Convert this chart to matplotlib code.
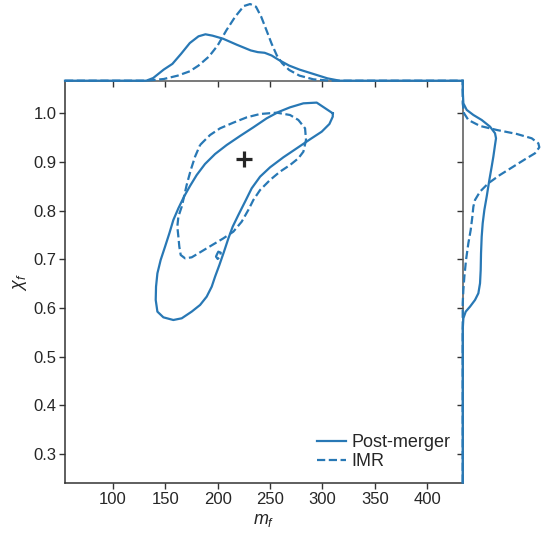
import matplotlib
matplotlib.use('Agg')
import matplotlib.pyplot as plt

plt.rcParams['font.family'] = ['Liberation Sans', 'DejaVu Sans']
plt.rcParams['mathtext.fontset'] = 'custom'
plt.rcParams['mathtext.rm'] = 'Liberation Sans'
plt.rcParams['mathtext.it'] = 'Liberation Sans:italic'
plt.rcParams['lines.solid_joinstyle'] = 'round'
plt.rcParams['lines.dash_joinstyle'] = 'round'

BLUE = '#2878b5'
DARK = '#262626'

# ---- axis ranges / ticks ----
x_ticks = [100, 150, 200, 250, 300, 350, 400]
y_ticks = [0.3, 0.4, 0.5, 0.6, 0.7, 0.8, 0.9, 1.0]
x_range = (54.5, 433.7)
y_range = (0.241, 1.067)

# ---- true / injected value ----
true_m = 225.5
true_chi = 0.907

# ---- 90% credible contour, Post-merger (m_f, chi_f) ----
pm_m = [309.8, 294.5, 281.8, 269.1, 258.0, 246.8, 234.1, 221.4, 208.7, 197.6, 188.0,
        180.1, 173.7, 168.0, 162.6, 157.8, 154.0, 149.9, 145.7, 142.6, 141.3, 141.0,
        142.6, 148.3, 157.8, 165.8, 175.3, 183.3, 189.6, 194.4, 197.6, 201.7, 206.1,
        210.3, 214.4, 219.8, 226.2, 232.5, 240.5, 250.0, 262.7, 275.4, 288.1, 299.3,
        306.6, 309.8, 309.8]
pm_chi = [1.000, 1.022, 1.0205, 1.0123, 1.0027, 0.9897, 0.9712, 0.9534, 0.9349, 0.9164,
          0.8959, 0.8733, 0.8507, 0.8288, 0.8048, 0.7808, 0.7534, 0.7260, 0.6986, 0.6712,
          0.6438, 0.6164, 0.5925, 0.5808, 0.5753, 0.5788, 0.5925, 0.6062, 0.6233, 0.6438,
          0.6644, 0.6883, 0.7157, 0.7431, 0.7671, 0.7911, 0.8185, 0.8459, 0.8698, 0.8890,
          0.9096, 0.9280, 0.9465, 0.9623, 0.9780, 0.9931, 1.000]

# ---- 90% credible contour, IMR (m_f, chi_f) ----
imr_m = [183.3, 186.4, 192.8, 202.3, 215.0, 227.8, 240.5, 256.4, 269.1, 277.0, 283.4,
         284.3, 281.8, 277.0, 269.1, 259.5, 250.0, 240.5, 234.1, 229.3, 223.0, 215.0,
         205.5, 197.6, 189.6, 181.7, 175.3, 169.0, 164.8, 163.5, 162.6, 161.6, 162.6,
         165.8, 168.0, 170.5, 174.4, 178.5, 183.3]
imr_chi = [0.9349, 0.9417, 0.9554, 0.9691, 0.9808, 0.9917, 0.9986, 1.0013, 0.9965, 0.9863,
           0.9691, 0.9452, 0.9212, 0.9075, 0.8938, 0.8801, 0.8630, 0.8424, 0.8219, 0.8014,
           0.7774, 0.7568, 0.7431, 0.7329, 0.7226, 0.7123, 0.7041, 0.7020, 0.7089, 0.7260,
           0.7465, 0.7671, 0.7877, 0.8082, 0.8288, 0.8527, 0.8835, 0.9109, 0.9349]
# small isolated island of the IMR contour
imr_isl_m = [199.1, 200.7, 203.0, 202.3, 200.1, 198.5, 199.1]
imr_isl_chi = [0.7090, 0.7157, 0.7137, 0.7055, 0.7007, 0.7055, 0.7090]

# ---- marginal density of m_f (arbitrary units) ----
pm_m_grid = [54.5, 100.0, 132.0, 138.6, 148.6, 156.9, 165.2, 173.5, 181.8, 188.4, 195.1,
             205.1, 218.3, 231.6, 238.3, 244.9, 251.5, 258.2, 268.2, 278.1, 291.4, 304.7,
             316.3, 380.0, 433.7]
pm_m_dens = [0, 0, 0, 8, 33, 50, 80, 112, 132, 138, 134, 125, 107, 90, 85, 83, 75, 62, 45,
             33, 20, 7, 0, 0, 0]
imr_m_grid = [54.5, 100.0, 132.0, 148.6, 161.9, 173.5, 181.8, 191.8, 200.1, 208.4, 216.7,
              225.0, 231.0, 236.6, 241.6, 246.6, 251.5, 256.5, 261.5, 268.2, 278.1, 291.4,
              308.0, 380.0, 433.7]
imr_m_dens = [0, 0, 0, 5, 15, 28, 45, 72, 105, 150, 190, 222, 228, 220, 190, 150, 110, 75,
              52, 32, 15, 4, 0, 0, 0]

# ---- marginal density of chi_f (arbitrary units) ----
pm_chi_grid = [0.241, 0.40, 0.5548, 0.5788, 0.5925, 0.6028, 0.6165, 0.6302, 0.6507, 0.6781,
               0.7124, 0.7466, 0.7740, 0.8014, 0.8288, 0.8631, 0.8905, 0.9110, 0.9350,
               0.9487, 0.9590, 0.9726, 0.9863, 0.9966, 1.0070, 1.0206, 1.0480, 1.067]
pm_chi_dens = [0, 0, 0, 2, 9, 22, 37, 47, 52, 54, 55, 57, 60, 65, 72, 80, 87, 92, 97, 100,
               97, 82, 57, 32, 12, 2, 0, 0]
imr_chi_grid = [0.241, 0.40, 0.6097, 0.6371, 0.6645, 0.6987, 0.7330, 0.7603, 0.7877, 0.8083,
                0.8220, 0.8391, 0.8563, 0.8734, 0.8905, 0.9055, 0.9179, 0.9302, 0.9384,
                0.9487, 0.9576, 0.9658, 0.9740, 0.9863, 1.0000, 1.0206, 1.067]
imr_chi_dens = [0, 0, 0, 2, 5, 10, 17, 24, 29, 32, 37, 52, 77, 112, 152, 187, 217, 230, 227,
                207, 162, 102, 52, 17, 4, 0, 0]

labels = ['Post-merger', 'IMR']

# ---------------------------------------------------------------
fig = plt.figure(figsize=(5.47, 5.36), dpi=100)
W, H = 547.0, 536.0
L, R, T, B = 65.0, 462.7, 80.7, 482.7
ax = fig.add_axes([L / W, 1 - B / H, (R - L) / W, (B - T) / H])
axt = fig.add_axes([L / W, 1 - T / H, (R - L) / W, T / H])
axr = fig.add_axes([R / W, 1 - B / H, (W - R) / W, (B - T) / H])

lw = 1.6
ax.plot(pm_m, pm_chi, color=BLUE, lw=lw, ls='-', label=labels[0])
ax.plot(imr_m, imr_chi, color=BLUE, lw=lw, ls='--', label=labels[1])
ax.plot(imr_isl_m, imr_isl_chi, color=BLUE, lw=lw, ls='--')
ax.plot([true_m], [true_chi], marker='+', color=DARK, ms=12, mew=2.3, ls='none')

ax.set_xlim(*x_range)
ax.set_ylim(*y_range)
ax.set_xticks(x_ticks)
ax.set_yticks(y_ticks)
ax.set_yticklabels([f'{v:.1f}' for v in y_ticks])
ax.tick_params(axis='both', direction='out', length=4, width=1, color='#333333',
               labelsize=12, labelcolor=DARK, pad=2)
ax.tick_params(axis='x', pad=3)
for s in ['top', 'right']:
    ax.spines[s].set_visible(False)
for s in ['left', 'bottom']:
    ax.spines[s].set_color('#333333')
    ax.spines[s].set_linewidth(1.1)
ax.set_xlabel('$m_f$', fontsize=13, color=DARK, labelpad=3)
ax.set_ylabel(r'$\chi_f$', fontsize=13, color=DARK, labelpad=3)
leg = ax.legend(loc='lower right', frameon=False, fontsize=13, handlelength=1.6,
                handletextpad=0.3, labelspacing=0.1, borderaxespad=0.3)
for t in leg.get_texts():
    t.set_color(DARK)

# top marginal
axt.plot(pm_m_grid, pm_m_dens, color=BLUE, lw=lw, ls='-', clip_on=False, zorder=3)
axt.plot(imr_m_grid, imr_m_dens, color=BLUE, lw=lw, ls='--', clip_on=False, zorder=3)
axt.set_xlim(*x_range)
axt.set_ylim(0, 240)
axt.set_xticks(x_ticks)
axt.set_yticks([])
axt.tick_params(axis='x', direction='out', length=4, width=1, color='#333333',
                labelbottom=False)
for s in ['top', 'right', 'left']:
    axt.spines[s].set_visible(False)
axt.spines['bottom'].set_color('#555555')
axt.spines['bottom'].set_linewidth(1.1)
axt.patch.set_alpha(0)

# right marginal
axr.plot(pm_chi_dens, pm_chi_grid, color=BLUE, lw=lw, ls='-', clip_on=False, zorder=3)
axr.plot(imr_chi_dens, imr_chi_grid, color=BLUE, lw=lw, ls='--', clip_on=False, zorder=3)
axr.set_ylim(*y_range)
axr.set_xlim(0, 253)
axr.set_yticks(y_ticks)
axr.set_xticks([])
axr.tick_params(axis='y', direction='out', length=4, width=1, color='#333333',
                labelleft=False)
for s in ['top', 'right', 'bottom']:
    axr.spines[s].set_visible(False)
axr.spines['left'].set_color('#555555')
axr.spines['left'].set_linewidth(1.1)
axr.patch.set_alpha(0)

fig.savefig('out.png', dpi=100)
